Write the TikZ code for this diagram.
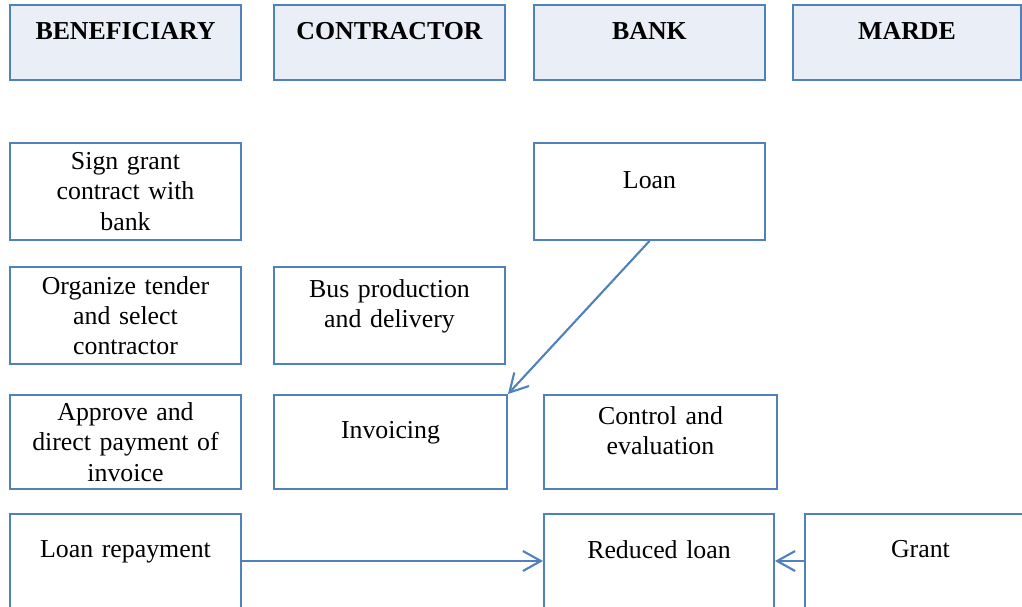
\documentclass[tikz,border=0pt]{standalone}
\usepackage{fontspec}
\setmainfont{Liberation Serif}
\usetikzlibrary{arrows.meta}
\definecolor{boxline}{RGB}{79,129,189}
\definecolor{headfill}{RGB}{234,238,247}
\newcommand{\tail}{\\[-4pt]\mbox{}}
\tikzstyle{box} = [rectangle, draw=boxline, line width=1.1pt, minimum width=4.62cm, minimum height=1.94cm, text width=4.2cm, align=center, font=\fontsize{14.7pt}{17.2pt}\selectfont]
\tikzstyle{head} = [box, fill=headfill, minimum height=1.5cm, font=\fontsize{14.7pt}{17.2pt}\selectfont\bfseries]
\tikzstyle{arrow} = [draw=boxline, line width=1.2pt, -{Straight Barb[length=0.36cm,width=0.4cm]}]
\begin{document}
\begin{tikzpicture}[x=0.02cm, y=-0.02cm]
	\clip (0,0) rectangle (1022,606);
	\node (benef) [head] at (125.5,42.5) {BENEFICIARY\tail};
	\node (contr) [head] at (389.5,42.5) {CONTRACTOR\tail};
	\node (bank) [head] at (649.5,42.5) {BANK\tail};
	\node (marde) [head, minimum width=4.56cm] at (907,42.5) {MARDE\tail};
	\node (sign) [box] at (125.5,191.5) {Sign grant\\ contract with\\ bank};
	\node (loan) [box] at (649.5,191.5) {Loan\tail};
	\node (tender) [box] at (125.5,315.5) {Organize tender\\ and select\\ contractor};
	\node (bus) [box] at (389.5,315.5) {Bus production\\ and delivery\tail};
	\node (approve) [box, minimum height=1.88cm] at (125.5,442) {Approve and\\ direct payment of\\ invoice};
	\node (invoice) [box, minimum height=1.88cm, minimum width=4.66cm] at (390.5,442) {Invoicing\tail};
	\node (control) [box, minimum height=1.88cm, minimum width=4.66cm] at (660.5,442) {Control and\\ evaluation\tail};
	\node (repay) [box, minimum height=1.88cm] at (125.5,561) {Loan repayment\tail};
	\node (reduced) [box, minimum height=1.88cm, minimum width=4.6cm] at (659,561) {Reduced loan\tail};
	\node (grant) [box, minimum height=1.88cm] at (920.5,561) {Grant\tail};
	\draw [arrow] (loan.south) -- (invoice.north east);
	\draw [arrow] (repay.east) -- (reduced.west);
	\draw [arrow] (grant.west) -- (reduced.east);
\end{tikzpicture}
\end{document}
